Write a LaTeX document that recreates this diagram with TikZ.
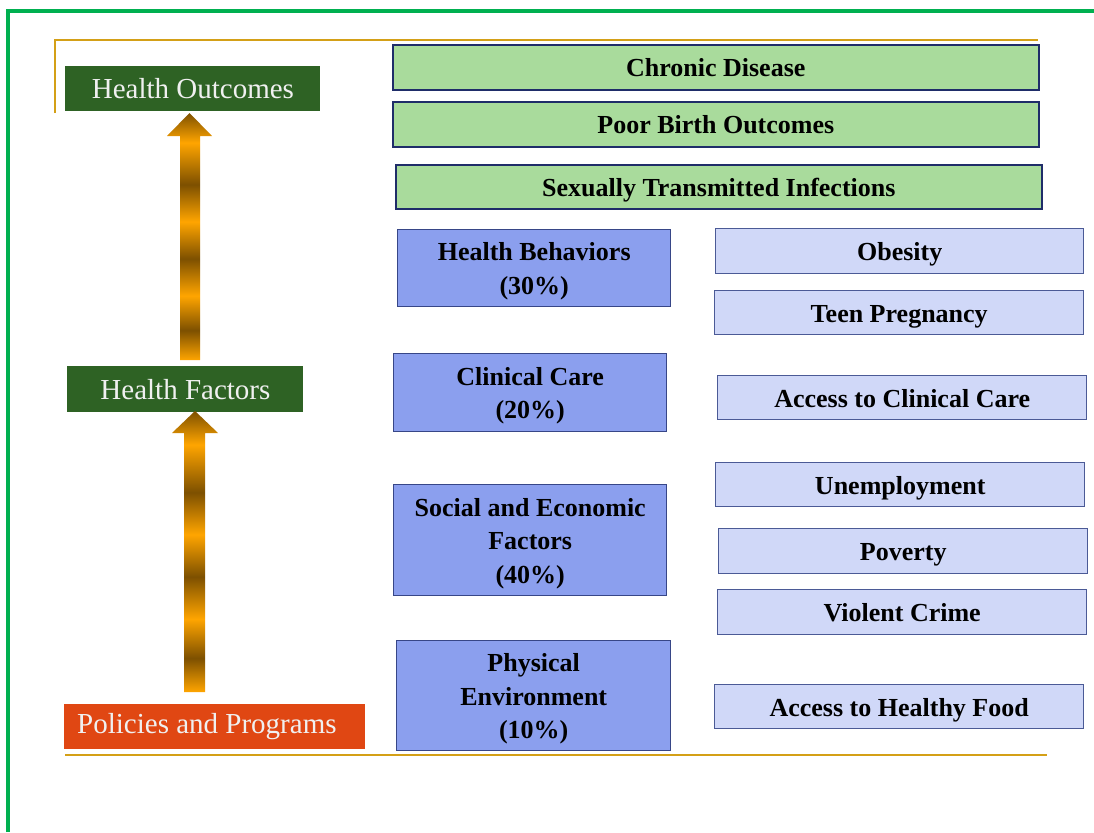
\documentclass[tikz,border=0pt]{standalone}
\usepackage{fontspec}
\setmainfont{Liberation Serif}
\definecolor{framegreen}{RGB}{0,176,80}
\definecolor{goldline}{RGB}{212,160,23}
\definecolor{darkgreen}{RGB}{46,98,36}
\definecolor{orangered}{RGB}{224,71,19}
\definecolor{lightgreen}{RGB}{169,219,156}
\definecolor{navy}{RGB}{31,45,105}
\definecolor{midblue}{RGB}{139,159,238}
\definecolor{midborder}{RGB}{55,70,135}
\definecolor{lightlav}{RGB}{208,216,248}
\definecolor{lightborder}{RGB}{75,90,150}
\definecolor{whitetext}{RGB}{240,240,240}
\definecolor{aorg}{RGB}{255,165,0}
\definecolor{abrn}{RGB}{125,80,0}
\pgfdeclareverticalshading{goldarrow}{100bp}{color(0bp)=(aorg); color(25bp)=(aorg); color(31bp)=(abrn); color(38bp)=(aorg); color(45.5bp)=(abrn); color(53bp)=(aorg); color(60.5bp)=(abrn); color(69bp)=(aorg); color(75bp)=(abrn); color(100bp)=(abrn)}
\newcommand\boxlines[1]{\vbox{\vskip2.8pt\hbox{\begin{tabular}{@{}c@{}}#1\end{tabular}}}}
\begin{document}
\begin{tikzpicture}[x=0.5pt,y=-0.5pt,
  base/.style={rectangle, anchor=north west, inner sep=0pt},
  boxtext/.style={font=\bfseries\fontsize{13}{16.75}\selectfont},
  outcome/.style={base, boxtext, fill=lightgreen, draw=navy, line width=0.8pt},
  factor/.style={base, boxtext, fill=midblue, draw=midborder, line width=0.7pt},
  measure/.style={base, boxtext, fill=lightlav, draw=lightborder, line width=0.7pt},
  label/.style={base, text=whitetext, font=\fontsize{14.5}{17}\selectfont},
  arrowbody/.style={shading=goldarrow}
]
\useasboundingbox[fill=white] (0,0) rectangle (1094,832);
% frame
\draw[framegreen, line width=2pt] (8,832) -- (8,11) -- (1094,11);
% gold lines
\draw[goldline, line width=1pt] (55,113) -- (55,40) -- (1038,40);
\draw[goldline, line width=1.3pt] (65,755) -- (1047,755);

% left labels
\node[label, fill=darkgreen, minimum width=127.5pt, minimum height=22.5pt] (ho) at (65,66) {Health Outcomes};
\node[label, fill=darkgreen, minimum width=118pt, minimum height=23pt] (hf) at (67,366) {Health Factors};
\node[label, fill=orangered, minimum width=150.5pt, minimum height=22.5pt] (pp) at (64,704) {Policies and Programs\kern8pt};

% arrows
\shade[arrowbody] (180,360) -- (180,136) -- (167,136) -- (189.5,113) -- (212,136) -- (200,136) -- (200,360) -- cycle;
\shade[arrowbody] (184,692) -- (184,433) -- (172,433) -- (195,411) -- (218,433) -- (205,433) -- (205,692) -- cycle;

% outcomes
\node[outcome, minimum width=323pt, minimum height=22.5pt] (cd) at (392,44) {\boxlines{Chronic Disease}};
\node[outcome, minimum width=323pt, minimum height=22.5pt] (pbo) at (392,101) {\boxlines{Poor Birth Outcomes}};
\node[outcome, minimum width=323pt, minimum height=22pt] (sti) at (395,164) {\boxlines{Sexually Transmitted Infections}};

% factors
\node[factor, minimum width=136.5pt, minimum height=38.5pt] (hb) at (397,229) {\boxlines{Health Behaviors\\(30\%)}};
\node[factor, minimum width=136.5pt, minimum height=39pt] (cc) at (393,353) {\boxlines{Clinical Care\\(20\%)}};
\node[factor, minimum width=136.5pt, minimum height=55.5pt] (sef) at (393,484) {\boxlines{Social and Economic\\Factors\\(40\%)}};
\node[factor, minimum width=137pt, minimum height=55pt] (pe) at (396,640) {\boxlines{Physical\\Environment\\(10\%)}};

% measures
\node[measure, minimum width=184pt, minimum height=22.5pt] (ob) at (715,228) {\boxlines{Obesity}};
\node[measure, minimum width=184.5pt, minimum height=22pt] (tp) at (714,290) {\boxlines{Teen Pregnancy}};
\node[measure, minimum width=184.5pt, minimum height=22pt] (acc) at (717,375) {\boxlines{Access to Clinical Care}};
\node[measure, minimum width=184.5pt, minimum height=22pt] (un) at (715,462) {\boxlines{Unemployment}};
\node[measure, minimum width=184.5pt, minimum height=22.5pt] (pov) at (718,528) {\boxlines{Poverty}};
\node[measure, minimum width=184.5pt, minimum height=22.5pt] (vc) at (717,589) {\boxlines{Violent Crime}};
\node[measure, minimum width=184.5pt, minimum height=22pt] (ahf) at (714,684) {\boxlines{Access to Healthy Food}};
\end{tikzpicture}
\end{document}
